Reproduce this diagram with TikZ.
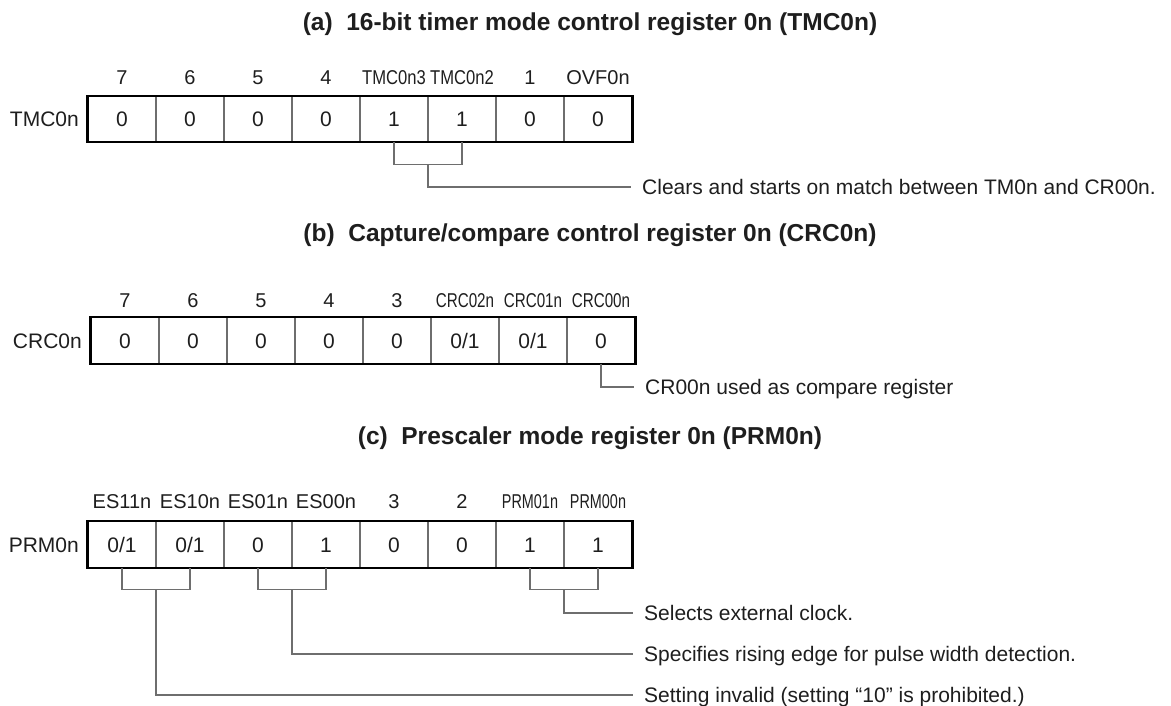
\documentclass[tikz,border=0pt]{standalone}
\usepackage{fontspec}
\setmainfont{Liberation Sans}
\usetikzlibrary{calc}
\definecolor{ink}{RGB}{30,30,30}
\definecolor{divgray}{RGB}{110,110,110}
\newcommand\cnd[2]{\scalebox{#1}[1]{#2}}
\def\zo{0/1}
\begin{document}
\begin{tikzpicture}[x=1pt,y=-1pt,
 every node/.style={text=ink},
 cell/.style={draw=divgray,line width=1.1pt,minimum width=68pt,minimum height=45.5pt,inner sep=0pt,text height=15pt,text depth=0pt,font=\fontsize{21}{24}\selectfont},
 bitlbl/.style={inner sep=0pt,text height=14.3pt,text depth=0pt,font=\fontsize{20}{23}\selectfont},
 regname/.style={anchor=east,inner sep=0pt,text height=15pt,text depth=0pt,font=\fontsize{21}{24}\selectfont},
 frame/.style={draw=black,line width=2.3pt},
 brk/.style={draw=divgray,line width=1.1pt},
 desc/.style={anchor=west,inner xsep=11pt,inner ysep=0pt,text height=15pt,text depth=0pt,font=\fontsize{21}{24}\selectfont},
 heading/.style={inner sep=0pt,text height=17.5pt,text depth=0pt,font=\bfseries\fontsize{24.5}{27}\selectfont}]

\useasboundingbox (0,0) rectangle (1171,706);

% ---------- (a) ----------
\node[heading] (ha) at (590,22) {(a)\ \ 16-bit timer mode control register 0n (TMC0n)};
\node[regname] (na) at (79,119) {TMC0n};
\foreach \v [count=\i from 0] in {0,0,0,0,1,1,0,0}
  \node[cell] (a\i) at ({122+68*\i},119) {\v};
\draw[frame] (a0.north west) rectangle (a7.south east);
\foreach \t [count=\i from 0] in {7,6,5,4,\cnd{0.83}{TMC0n3},\cnd{0.83}{TMC0n2},1,OVF0n}
  \node[bitlbl] (la\i) at ({122+68*\i},77) {\t};
\draw[brk] (a4.south) -- ++(0,22) -| (a5.south);
\coordinate (ma) at ($(a4.south)!0.5!(a5.south)+(0,22)$);
\node[desc] (da) at (631,187) {Clears and starts on match between TM0n and CR00n.};
\draw[brk] (ma) |- (da.west);

% ---------- (b) ----------
\node[heading] (hb) at (590,233) {(b)\ \ Capture/compare control register 0n (CRC0n)};
\node[regname] (nb) at (82,340.5) {CRC0n};
\foreach \v [count=\i from 0] in {0,0,0,0,0,\zo,\zo,0}
  \node[cell] (b\i) at ({125+68*\i},340.5) {\v};
\draw[frame] (b0.north west) rectangle (b7.south east);
\foreach \t [count=\i from 0] in {7,6,5,4,3,\cnd{0.76}{CRC02n},\cnd{0.76}{CRC01n},\cnd{0.76}{CRC00n}}
  \node[bitlbl] (lb\i) at ({125+68*\i},300) {\t};
\node[desc] (db) at (634,387) {CR00n used as compare register};
\draw[brk] (b7.south) |- (db.west);

% ---------- (c) ----------
\node[heading] (hc) at (590,436) {(c)\ \ Prescaler mode register 0n (PRM0n)};
\node[regname] (nc) at (79,544.5) {PRM0n};
\foreach \v [count=\i from 0] in {\zo,\zo,0,1,0,0,1,1}
  \node[cell] (c\i) at ({122+68*\i},544.5) {\v};
\draw[frame] (c0.north west) rectangle (c7.south east);
\foreach \t [count=\i from 0] in {ES11n,ES10n,ES01n,ES00n,3,2,\cnd{0.72}{PRM01n},\cnd{0.72}{PRM00n}}
  \node[bitlbl] (lc\i) at ({122+68*\i},501) {\t};
\draw[brk] (c0.south) -- ++(0,22) -| (c1.south);
\draw[brk] (c2.south) -- ++(0,22) -| (c3.south);
\draw[brk] (c6.south) -- ++(0,22) -| (c7.south);
\coordinate (m01) at ($(c0.south)!0.5!(c1.south)+(0,22)$);
\coordinate (m23) at ($(c2.south)!0.5!(c3.south)+(0,22)$);
\coordinate (m67) at ($(c6.south)!0.5!(c7.south)+(0,22)$);
\node[desc] (d1) at (633,613) {Selects external clock.};
\node[desc] (d2) at (633,654) {Specifies rising edge for pulse width detection.};
\node[desc] (d3) at (633,695) {Setting invalid (setting “10” is prohibited.)};
\draw[brk] (m67) |- (d1.west);
\draw[brk] (m23) |- (d2.west);
\draw[brk] (m01) |- (d3.west);
\end{tikzpicture}
\end{document}
